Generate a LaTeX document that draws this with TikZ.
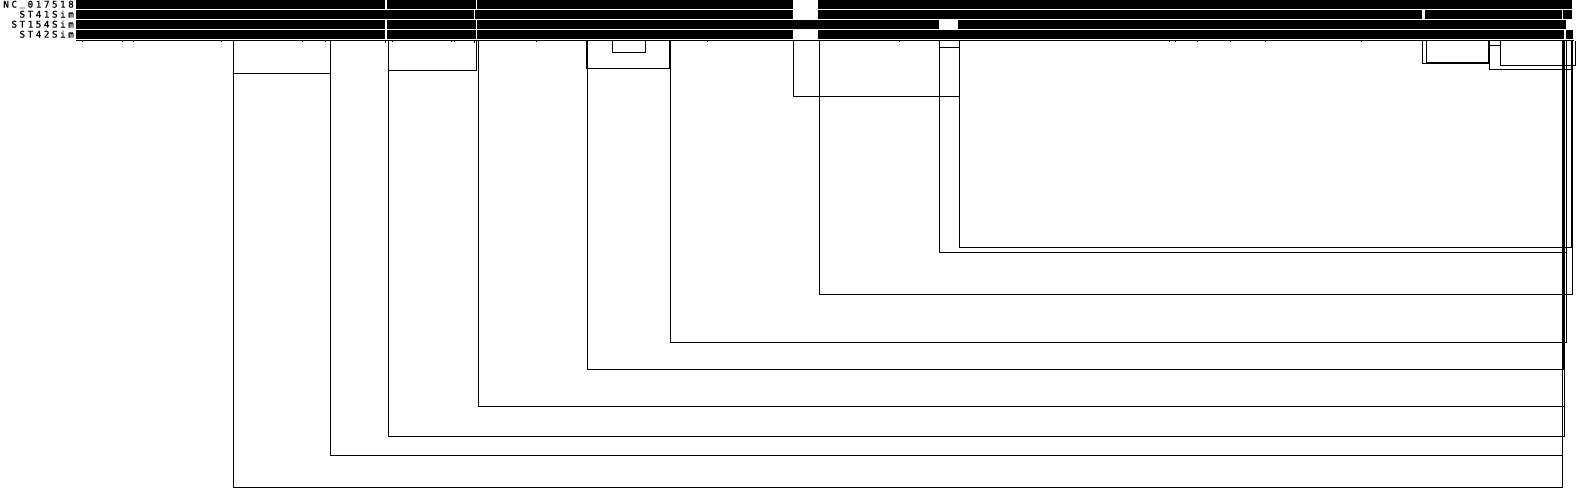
\documentclass[tikz,border=0pt]{standalone}
\usepackage{fontspec}
\newfontfamily\labfont[LetterSpace=28,FakeBold=1.2]{DejaVu Sans Mono}
\begin{document}
\begin{tikzpicture}[x=1pt,y=-1pt,
  link/.style={draw=black,line width=1pt},
  gapbox/.style={fill=white},
  tickmark/.style={fill=black},
  lab/.style={anchor=base east,inner sep=0pt,font=\labfont\fontsize{9.2}{10}\selectfont}]
\useasboundingbox (0,0) rectangle (1576,493);
% bars
\fill (76,0) rectangle (1572,9);
\fill (76,10) rectangle (1572,19);
\fill (76,20) rectangle (1566,29);
\fill (76,30) rectangle (1573,39);
% gaps row 1
\fill[gapbox] (385,0) rectangle (387,9);
\fill[gapbox] (476,0) rectangle (477,9);
\fill[gapbox] (793,0) rectangle (818,9);
% gaps row 2
\fill[gapbox] (474,10) rectangle (475,19);
\fill[gapbox] (793,10) rectangle (818,19);
\fill[gapbox] (1422,10) rectangle (1425,19);
\fill[gapbox] (1562,10) rectangle (1563,19);
% gaps row 3
\fill[gapbox] (385,20) rectangle (387,29);
\fill[gapbox] (476,20) rectangle (477,29);
\fill[gapbox] (939,20) rectangle (958,29);
% gaps row 4
\fill[gapbox] (385,30) rectangle (387,39);
\fill[gapbox] (476,30) rectangle (477,39);
\fill[gapbox] (793,30) rectangle (818,39);
\fill[gapbox] (1564,30) rectangle (1566,39);
% baseline
\fill (76,40) rectangle (1574,41);
% ticks
\foreach \t in {82,122,133,221,302,325,392,451,454,536,707,899,1169,1175,1197,1230,1265,1361}
  \fill[tickmark] (\t,41) rectangle (\t+1,42);
\fill[tickmark] (385,41) rectangle (386,43);
\fill[tickmark] (474,41) rectangle (475,43);
% labels
\node[lab] (nc) at (74,7.6) {NC\kern2.6pt\raisebox{1.6pt}{\_}\kern2.6pt017518};
\node[lab] (st41) at (74,17.6) {ST41Sim};
\node[lab] (st154) at (74,27.6) {ST154Sim};
\node[lab] (st42) at (74,37.6) {ST42Sim};
% brackets
\draw[link] (233.5,41) |- (1562.5,487.5) -- (1562.5,41);
\draw[link] (330.5,41) |- (1562.5,455.5) -- (1562.5,41);
\draw[link] (388.5,41) |- (1564.5,436.5) -- (1564.5,41);
\draw[link] (478.5,41) |- (1564.5,406.5) -- (1564.5,41);
\draw[link] (587.5,41) |- (1563.5,369.5) -- (1563.5,41);
\draw[link] (670.5,41) |- (1566.5,342.5) -- (1566.5,41);
\draw[link] (819.5,41) |- (1572.5,294.5) -- (1572.5,41);
\draw[link] (939.5,41) |- (1566.5,252.5) -- (1566.5,41);
\draw[link] (959.5,41) |- (1571.5,247.5) -- (1571.5,41);
% small boxes
\draw[link] (233.5,41) |- (330.5,73.5) -- (330.5,41);
\draw[link] (388.5,41) |- (476.5,70.5) -- (476.5,41);
\draw[link] (586.5,41) |- (669.5,68.5) -- (669.5,41);
\draw[link] (612.5,41) |- (645.5,52.5) -- (645.5,41);
\draw[link] (793.5,41) |- (959.5,96.5) -- (959.5,41);
\draw[link] (939.5,41) |- (959.5,47.5) -- (959.5,41);
\draw[link] (1489.5,41) |- (1500.5,45.5) -- (1500.5,41);
% right-side brackets
\draw[link] (1422.5,41) |- (1489.5,63.5) -- (1489.5,41);
\draw[link] (1426.5,41) |- (1488.5,62.5) -- (1488.5,41);
\draw[link] (1489.5,41) |- (1572.5,69.5) -- (1572.5,41);
\draw[link] (1500.5,41) |- (1575.5,65.5) -- (1575.5,41);
\end{tikzpicture}
\end{document}
